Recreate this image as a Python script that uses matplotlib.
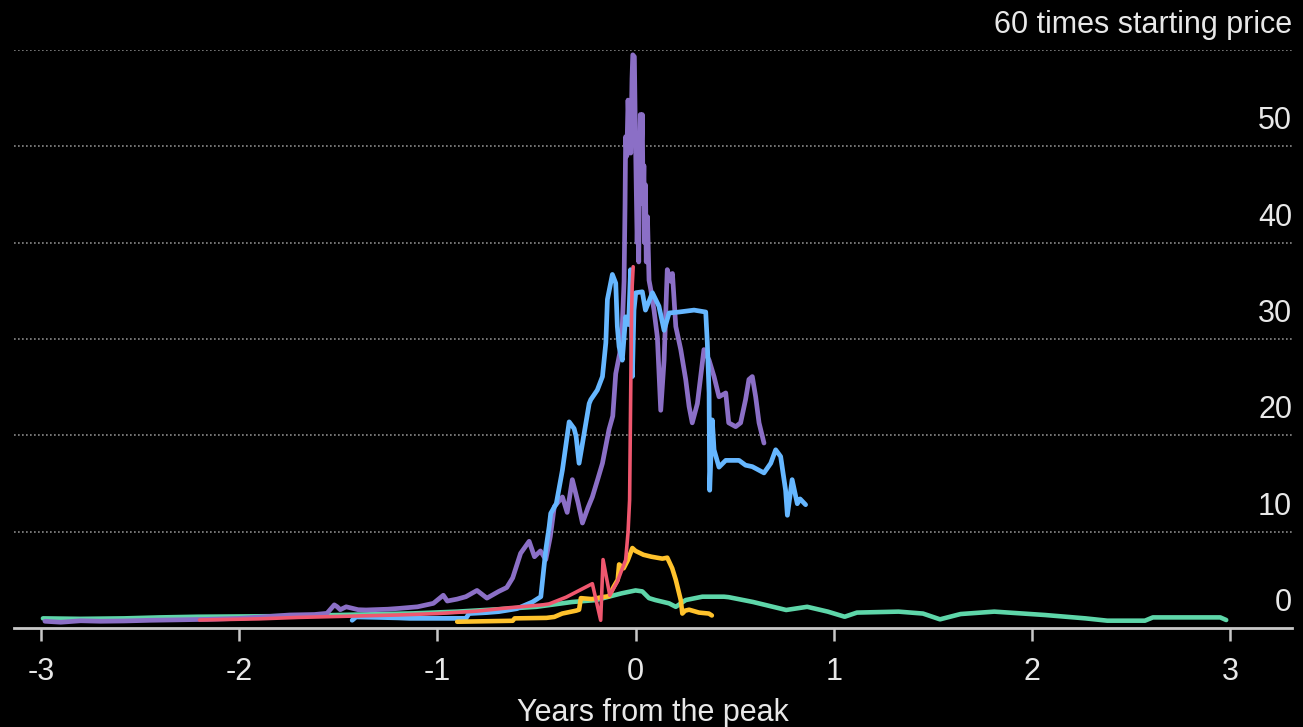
import matplotlib
matplotlib.use("Agg")
import matplotlib.pyplot as plt

plt.rcParams['font.family'] = ['Liberation Sans', 'DejaVu Sans']

# Years from the peak / multiple of starting price
purple_x = [-2.98, -2.9, -2.8, -2.7, -2.58, -2.45, -2.3, -2.16, -2.0, -1.85, -1.745, -1.62,
            -1.557, -1.52, -1.505, -1.49, -1.46, -1.4, -1.36, -1.25, -1.19, -1.1, -1.02, -0.97,
            -0.95, -0.9, -0.856, -0.8, -0.75, -0.69, -0.65, -0.62, -0.58, -0.537, -0.51, -0.48,
            -0.453, -0.43, -0.41, -0.369, -0.345, -0.319, -0.29, -0.268, -0.24, -0.218, -0.19,
            -0.167, -0.134, -0.115, -0.1, -0.08, -0.067, -0.058, -0.053, -0.05, -0.044, -0.038,
            -0.03, -0.024, -0.018, -0.014, -0.006, -0.002, 0.004, 0.008, 0.012, 0.016, 0.02,
            0.024, 0.03, 0.034, 0.038, 0.042, 0.046, 0.05, 0.054, 0.06, 0.068, 0.077, 0.093,
            0.11, 0.127, 0.144, 0.16, 0.177, 0.186, 0.203, 0.228, 0.253, 0.27, 0.286, 0.312,
            0.345, 0.371, 0.396, 0.421, 0.455, 0.47, 0.505, 0.53, 0.555, 0.572, 0.589, 0.606,
            0.623, 0.648]
purple_y = [0.7, 0.6, 0.75, 0.7, 0.73, 0.8, 0.85, 0.9, 1.0, 1.2, 1.35, 1.4,
            1.52, 2.4, 2.2, 1.9, 2.2, 1.9, 1.87, 1.95, 2.04, 2.2, 2.56, 3.4,
            2.8, 3.0, 3.25, 3.9, 3.1, 3.8, 4.2, 5.2, 7.75, 9.0, 7.4, 8.0,
            7.1, 9.5, 12.6, 13.6, 12.0, 15.4, 13.0, 10.9, 12.5, 13.6, 15.5,
            17.1, 20.6, 22.0, 26.4, 28.5, 31.3, 36.0, 44.0, 51.0, 49.0, 54.8,
            50.0, 49.3, 57.0, 59.5, 59.3, 53.0, 45.0, 40.0, 44.0, 38.0, 47.0,
            53.3, 50.0, 53.3, 44.0, 48.0, 40.0, 46.0, 38.0, 42.7, 36.1, 35.1, 33.0,
            30.2, 22.6, 27.8, 37.2, 36.0, 36.8, 31.3, 28.9, 25.8, 23.0, 21.3, 23.3,
            28.9, 27.8, 26.1, 24.0, 24.4, 21.3, 20.9, 21.3, 23.7, 25.8, 26.1, 24.0,
            21.3, 19.2]

blue_x = [-1.43, -1.41, -1.3, -1.2, -1.14, -1.0, -0.856, -0.84, -0.75, -0.69, -0.6, -0.52,
          -0.478, -0.453, -0.436, -0.428, -0.40, -0.369, -0.335, -0.31, -0.30, -0.285, -0.27,
          -0.234, -0.226, -0.193, -0.167, -0.15, -0.142, -0.117, -0.1, -0.092, -0.083, -0.067,
          -0.05, -0.035, -0.025, -0.016, -0.008, 0.001, 0.034, 0.05, 0.085, 0.118, 0.144,
          0.169, 0.219, 0.295, 0.354, 0.362, 0.371, 0.374, 0.387, 0.396, 0.421, 0.455, 0.522,
          0.555, 0.589, 0.648, 0.682, 0.707, 0.732, 0.757, 0.766, 0.79, 0.816, 0.83, 0.858]
blue_y = [0.8, 1.15, 1.1, 1.05, 1.0, 1.0, 1.0, 1.5, 1.6, 1.7, 2.0, 2.7,
          3.25, 8.1, 10.5, 11.9, 12.9, 16.4, 21.4, 20.7, 19.9, 17.1, 18.9,
          23.3, 23.7, 24.7, 26.1, 29.6, 34.1, 36.7, 35.8, 31.3, 29.2, 27.8,
          32.3, 31.5, 37.2, 26.1, 33.0, 34.8, 34.9, 33.0, 34.8, 33.4, 30.9,
          32.7, 32.8, 33.0, 32.8, 29.6, 24.4, 14.3, 21.6, 18.5, 16.7, 17.4, 17.4,
          16.9, 16.75, 16.1, 17.1, 18.5, 17.8, 14.3, 11.7, 15.4, 12.9, 13.4, 12.8]

red_x = [-2.2, -1.9, -1.7, -1.5, -1.2, -1.0, -0.8, -0.64, -0.537, -0.47, -0.436, -0.35,
         -0.218, -0.176, -0.164, -0.13, -0.092, -0.07, -0.05, -0.038, -0.03, -0.024, -0.02,
         -0.017, -0.012]
red_y = [0.83, 0.95, 1.1, 1.2, 1.35, 1.5, 1.75, 2.1, 2.28, 2.4, 2.5, 3.2,
         4.6, 0.8, 7.1, 3.4, 4.8, 6.0, 7.06, 9.9, 13.3, 25.4, 32.7, 35.5, 37.5]

yellow_x = [-0.90, -0.62, -0.61, -0.45, -0.41, -0.37, -0.30, -0.285, -0.276, -0.22, -0.17,
            -0.134, -0.11, -0.09, -0.083, -0.06, -0.04, -0.016, 0.0, 0.04, 0.08, 0.135, 0.16,
            0.185, 0.203, 0.228, 0.236, 0.25, 0.27, 0.32, 0.37, 0.385]
yellow_y = [0.65, 0.75, 1.0, 1.05, 1.15, 1.5, 1.8, 1.9, 3.1, 3.0, 3.2,
            3.3, 4.3, 5.0, 6.6, 6.2, 7.0, 8.3, 8.0, 7.6, 7.4, 7.2, 7.3,
            6.2, 5.0, 2.9, 1.5, 1.8, 1.9, 1.6, 1.5, 1.3]

green_x = [-2.99, -2.8, -2.58, -2.4, -2.21, -2.0, -1.75, -1.5, -1.12, -0.9, -0.70, -0.5,
           -0.32, -0.2, -0.07, 0.0, 0.034, 0.068, 0.1, 0.169, 0.203, 0.253, 0.337, 0.446,
           0.47, 0.593, 0.76, 0.866, 0.97, 1.055, 1.117, 1.327, 1.45, 1.536, 1.64, 1.81,
           2.065, 2.27, 2.38, 2.57, 2.61, 2.8, 2.95, 2.98]
green_y = [1.0, 0.95, 1.0, 1.1, 1.17, 1.2, 1.24, 1.35, 1.52, 1.7, 1.94, 2.2,
           2.7, 2.9, 3.6, 3.9, 3.8, 3.1, 2.9, 2.56, 2.2, 2.9, 3.25, 3.25,
           3.2, 2.7, 1.87, 2.2, 1.7, 1.17, 1.6, 1.7, 1.5, 0.9, 1.45, 1.7,
           1.35, 1.0, 0.76, 0.76, 1.1, 1.1, 1.1, 0.83]

x_ticks = [-3, -2, -1, 0, 1, 2, 3]
y_ticks = [0, 10, 20, 30, 40, 50]
top_label = "60 times starting price"

fig = plt.figure(figsize=(13.03, 7.27), dpi=100, facecolor='black')
ax = fig.add_axes([14 / 1303, 99 / 727, 1278 / 1303, 578 / 727])
ax.set_facecolor('black')
ax.set_xlim(-3.136, 3.312)
ax.set_ylim(0, 60)

# grid lines, dotted
ax.set_yticks([10, 20, 30, 40, 50, 60])
ax.yaxis.grid(True, color='#8a8a8a', linestyle=(0, (1, 1.4)), linewidth=1.2)
ax.set_axisbelow(True)
ax.tick_params(axis='y', length=0, labelleft=False)

for s in ['top', 'left', 'right']:
    ax.spines[s].set_visible(False)
ax.spines['bottom'].set_color('#c8c8c8')
ax.spines['bottom'].set_linewidth(2)

ax.set_xticks(x_ticks)
ax.set_xticklabels([str(t) for t in x_ticks])
ax.tick_params(axis='x', direction='out', length=9, width=1.8, color='#c8c8c8',
               labelcolor='#e8e8e8', labelsize=22, pad=12)
ax.set_xlabel("Years from the peak", color='#e8e8e8', fontsize=22, labelpad=8)

# y labels sit just above their grid line, flush right
ytrans = ax.get_yaxis_transform()
for v in y_ticks:
    ax.text(1.0, v + 1.75, str(v), transform=ytrans, ha='right', va='baseline',
            color='#e8e8e8', fontsize=22)
ax.text(1.0, 60 + 1.75, top_label, transform=ytrans, ha='right', va='baseline',
        color='#e8e8e8', fontsize=22, clip_on=False)

kw = dict(solid_joinstyle='round', solid_capstyle='round', clip_on=False)
ax.plot(green_x, green_y, color='#5ed6a9', lw=3.3, zorder=2, **kw)
ax.plot(purple_x, purple_y, color='#8b6fc6', lw=3.4, zorder=3, **kw)
ax.plot(blue_x, blue_y, color='#66b7ff', lw=3.4, zorder=4, **kw)
ax.plot(yellow_x, yellow_y, color='#ffc22c', lw=3.3, zorder=5, **kw)
ax.plot(red_x, red_y, color='#f0576f', lw=2.6, zorder=6, **kw)

fig.savefig('out.png', dpi=100, facecolor='black')
